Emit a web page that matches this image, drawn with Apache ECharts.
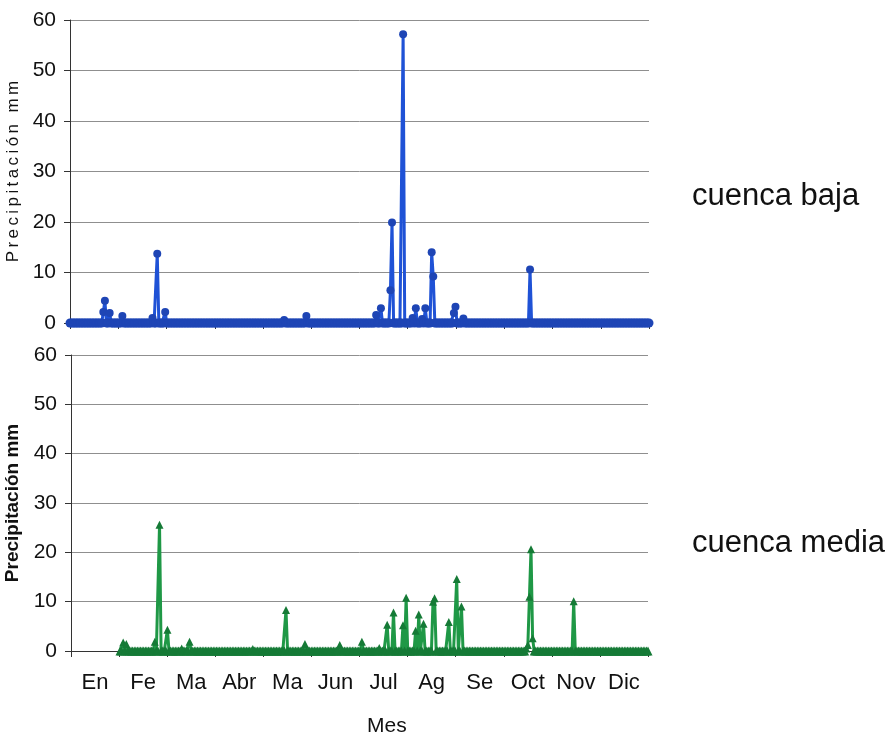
<!DOCTYPE html>
<html>
<head>
<meta charset="utf-8">
<script src="https://cdn.jsdelivr.net/npm/echarts@6/dist/echarts.min.js"></script>
<style>
html,body{margin:0;padding:0;background:#fff;}
#chart{width:892px;height:738px;}
</style>
</head>
<body>
<div id="chart"></div>
<script>
// Month labels (bottom axis)
const months = ['En','Fe','Ma','Abr','Ma','Jun','Jul','Ag','Se','Oct','Nov','Dic'];
const yTicks = [0,10,20,30,40,50,60];

// cuenca baja: rain days (day of year) and precipitation (mm)
const bajaStart = 0;
const bajaDays = [21,22,25,33,52,55,60,135,149,193,196,202,203,210,216,218,222,224,228,229,242,243,248,290];
const bajaVals = [2.2,4.4,2.0,1.4,1.0,13.7,2.2,0.6,1.4,1.6,2.9,6.5,19.9,57.2,1.0,2.9,0.8,2.9,14.0,9.2,2.0,3.2,0.9,10.6];

// cuenca media: rain days (day of year) and precipitation (mm)
const mediaStart = 31;
const mediaDays = [33,35,53,56,61,70,75,115,136,148,170,184,195,200,204,210,212,218,220,223,229,230,239,244,247,288,289,290,291,292,318];
const mediaVals = [1.7,1.4,1.9,25.6,4.3,0.5,1.9,0.4,8.3,1.4,1.2,1.9,0.6,5.3,7.8,5.2,10.8,4.1,7.4,5.5,10.0,10.7,5.9,14.6,9.0,0.5,1.2,11.0,20.6,2.6,10.1];

const yearDays = 365;

function buildDaily(start, days, vals) {
  const m = {};
  days.forEach((d, i) => { m[d] = vals[i]; });
  const out = [];
  for (let d = start; d <= yearDays; d++) out.push([d, m[d] !== undefined ? m[d] : 0]);
  return out;
}

const labelFont = "'Liberation Sans',sans-serif";
const axisColor = '#333';
const gridColor = '#8f8f8f';

function yAxis(gridIndex, name, nameStyle) {
  return {
    type: 'value', gridIndex: gridIndex, min: 0, max: 60, interval: 10,
    name: name, nameLocation: 'middle', nameRotate: 90, nameGap: 39,
    nameTextStyle: nameStyle,
    axisLine: {show: true, lineStyle: {color: axisColor, width: 1}},
    axisTick: {show: true, length: 6, lineStyle: {color: axisColor}},
    axisLabel: {fontFamily: labelFont, fontSize: 21, color: '#111', margin: 14},
    splitLine: {show: true, lineStyle: {color: gridColor, width: 1}}
  };
}

function xValAxis(gridIndex) {
  return {
    type: 'value', gridIndex: gridIndex, min: 0, max: yearDays, interval: yearDays / 12,
    axisLine: {show: true, onZero: false, lineStyle: {color: axisColor, width: 1}},
    axisTick: {show: true, length: 6, lineStyle: {color: axisColor}},
    axisLabel: {show: false},
    splitLine: {show: false}
  };
}

function symSize(v) { return v[1] === 0 ? 9 : 8; }

const chart = echarts.init(document.getElementById('chart'), null, {renderer: 'canvas'});
chart.setOption({
  animation: false,
  backgroundColor: '#fff',
  grid: [
    {left: 70, top: 20, width: 579, height: 303, outerBoundsMode: 'none', containLabel: false},
    {left: 71, top: 355, width: 577, height: 296, outerBoundsMode: 'none', containLabel: false}
  ],
  xAxis: [
    xValAxis(0),
    xValAxis(1),
    {
      type: 'category', gridIndex: 1, data: months, boundaryGap: true, position: 'bottom',
      axisLine: {show: false}, axisTick: {show: false}, splitLine: {show: false},
      axisLabel: {fontFamily: labelFont, fontSize: 22, color: '#111', margin: 21, interval: 0}
    }
  ],
  yAxis: [
    yAxis(0, 'P\u2009r\u2009e\u2009c\u2009i\u2009p\u2009i\u2009t\u2009a\u2009c\u2009i\u2009ó\u2009n\u2009 \u2009m\u2009m',
      {fontFamily: labelFont, fontSize: 17, color: '#111'}),
    yAxis(1, 'Precipitación mm',
      {fontFamily: labelFont, fontSize: 19, fontWeight: 'bold', color: '#111'})
  ],
  series: [
    {
      type: 'line', xAxisIndex: 0, yAxisIndex: 0,
      data: buildDaily(bajaStart, bajaDays, bajaVals),
      showSymbol: true, showAllSymbol: true, symbol: 'circle', symbolSize: symSize,
      lineStyle: {color: '#1f52d6', width: 3},
      itemStyle: {color: '#1e45b5'}
    },
    {
      type: 'line', xAxisIndex: 1, yAxisIndex: 1,
      data: buildDaily(mediaStart, mediaDays, mediaVals),
      showSymbol: true, showAllSymbol: true, symbol: 'triangle', symbolSize: symSize,
      lineStyle: {color: '#1f9846', width: 3},
      itemStyle: {color: '#157a36'}
    }
  ],
  graphic: [
    {type: 'text', left: 692, top: 181, style: {text: 'cuenca baja', font: "31px 'Liberation Sans',sans-serif", fill: '#111'}},
    {type: 'text', left: 692, top: 528, style: {text: 'cuenca media', font: "31px 'Liberation Sans',sans-serif", fill: '#111'}},
    {type: 'text', left: 367, top: 716, style: {text: 'Mes', font: "21px 'Liberation Sans',sans-serif", fill: '#111'}}
  ]
});
</script>
</body>
</html>
